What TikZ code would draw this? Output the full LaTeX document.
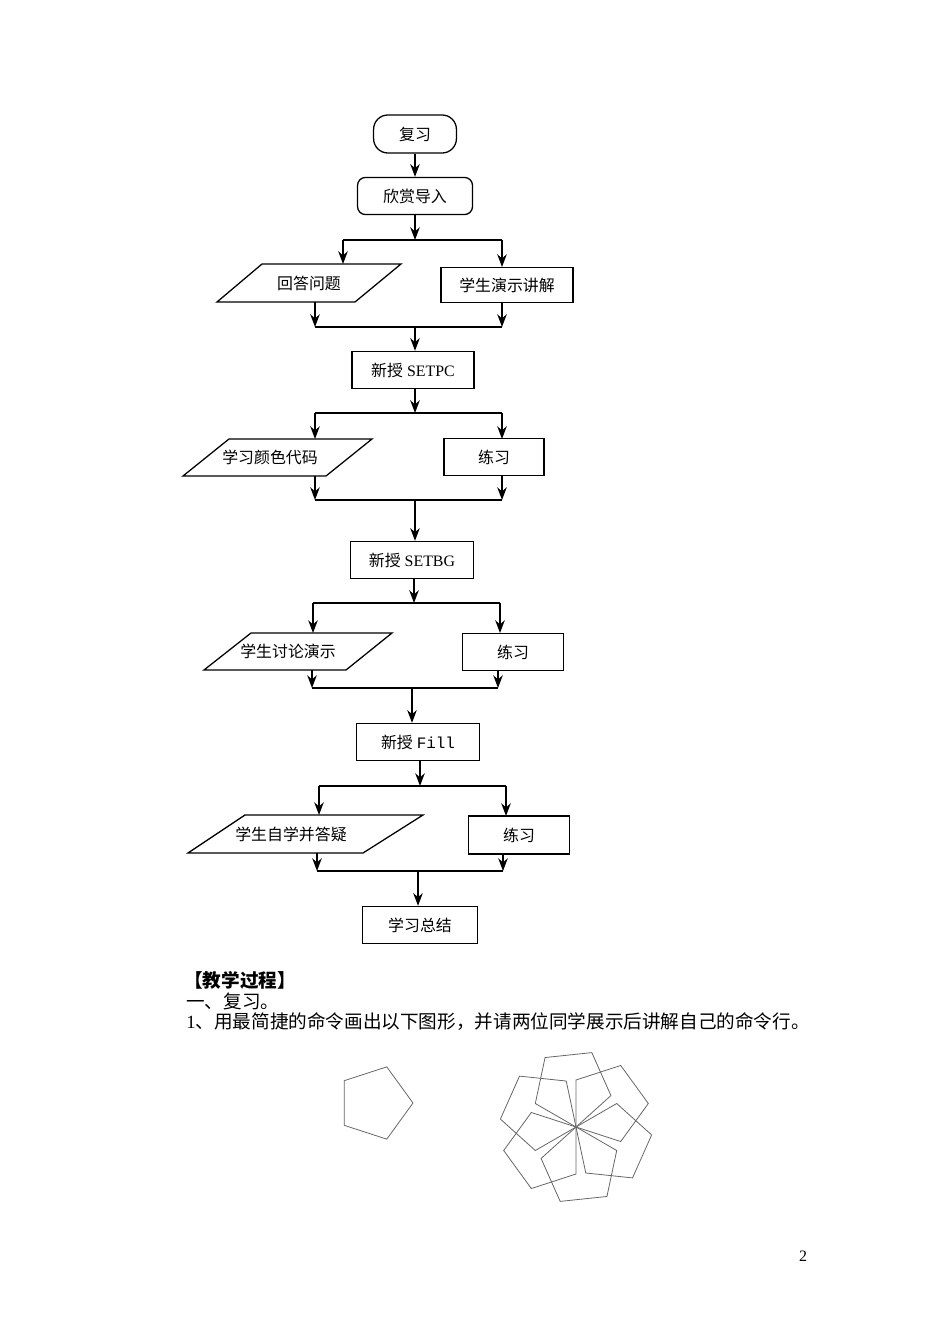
\documentclass[tikz,border=0pt]{standalone}
\usepackage{fontspec}
\setmainfont{Liberation Serif}
\newfontfamily\cjk{Noto Sans CJK SC}
\usetikzlibrary{arrows.meta,calc}
\newcommand{\zh}[1]{{\cjk #1}}
\tikzset{
  box/.style={rectangle, draw, thick, inner sep=0pt, font=\fontsize{10}{12}\selectfont},
  lbl/.style={inner sep=0pt, font=\fontsize{10}{12}\selectfont},
  flow/.style={-{Stealth[length=8pt,width=6pt]}, thick},
  bar/.style={line width=1.4pt},
  shape5/.style={draw=black!60, line width=0.5pt}
}
\begin{document}
\begin{tikzpicture}[x=0.0221cm, y=-0.0221cm]
  \useasboundingbox (0,0) rectangle (950,1344);

  % top of the chart
  \node [box, rounded corners=9pt, minimum width=1.83cm, minimum height=0.84cm] (rev) at (415,134) {\zh{复习}};
  \node [box, rounded corners=5pt, minimum width=2.54cm, minimum height=0.82cm] (intro) at (415,196) {\zh{欣赏导入}};
  \draw [flow] (rev) -- (intro);

  % branch 1
  \coordinate (b1) at (415,240);
  \draw [flow] (intro) -- (b1);
  \draw [bar] (343,240) -- (502,240);
  \draw [thick] (262,264) -- (401,264) -- (355,302) -- (217,302) -- cycle;
  \node [lbl] (ans) at (309,283) {\zh{回答问题}};
  \node [box, minimum width=2.92cm, minimum height=0.77cm] (demo) at (507,285) {\zh{学生演示讲解}};
  \draw [flow] (343,240) -- (343,264);
  \draw [flow] (502,240) -- (502,267);
  \draw [flow] (315,302) -- (315,327);
  \draw [flow] (502,302) -- (502,327);
  \draw [bar] (315,327) -- (502,327);
  \node [box, minimum width=2.70cm, minimum height=0.82cm] (pc) at (413,370) {\zh{新授} SETPC};
  \coordinate (m1) at (415,327);
  \draw [flow] (m1) -- (m1 |- pc.north);

  % branch 2
  \coordinate (b2) at (415,413);
  \draw [flow] (pc.south -| b2) -- (b2);
  \draw [bar] (315,413) -- (502,413);
  \draw [thick] (229,439) -- (372,439) -- (326,476) -- (183,476) -- cycle;
  \node [lbl] (code) at (270,457) {\zh{学习颜色代码}};
  \node [box, minimum width=2.21cm, minimum height=0.82cm] (ex1) at (494,457) {\zh{练习}};
  \draw [flow] (315,413) -- (315,439);
  \draw [flow] (502,413) -- (502,439);
  \draw [flow] (315,476) -- (315,500);
  \draw [flow] (502,476) -- (502,500);
  \draw [bar] (315,500) -- (502,500);
  \node [box, minimum width=2.72cm, minimum height=0.82cm] (bg) at (412,560) {\zh{新授} SETBG};
  \coordinate (m2) at (415,500);
  \draw [flow] (m2) -- (m2 |- bg.north);

  % branch 3
  \coordinate (b3) at (414,603);
  \draw [flow] (bg.south -| b3) -- (b3);
  \draw [bar] (313,603) -- (500,603);
  \draw [thick] (251,633) -- (392,633) -- (346,670) -- (204,670) -- cycle;
  \node [lbl] (disc) at (288,651) {\zh{学生讨论演示}};
  \node [box, minimum width=2.23cm, minimum height=0.82cm] (ex2) at (513,652) {\zh{练习}};
  \draw [flow] (313,603) -- (313,633);
  \draw [flow] (500,603) -- (500,633);
  \draw [flow] (312,670) -- (312,688);
  \draw [flow] (498,670) -- (498,688);
  \draw [bar] (312,688) -- (498,688);
  \node [box, minimum width=2.72cm, minimum height=0.82cm] (fill) at (418,742) {\zh{新授} {\fontspec{Liberation Mono}Fill}};
  \coordinate (m3) at (412,688);
  \draw [flow] (m3) -- (m3 |- fill.north);

  % branch 4
  \coordinate (b4) at (420,786);
  \draw [flow] (fill.south -| b4) -- (b4);
  \draw [bar] (319,786) -- (506,786);
  \draw [thick] (245,815) -- (423,815) -- (363,853) -- (188,853) -- cycle;
  \node [lbl] (self) at (291,834) {\zh{学生自学并答疑}};
  \node [box, minimum width=2.23cm, minimum height=0.84cm] (ex3) at (519,835) {\zh{练习}};
  \draw [flow] (319,786) -- (319,815);
  \draw [flow] (506,786) -- (506,816);
  \draw [flow] (317,853) -- (317,871);
  \draw [flow] (503,854) -- (503,871);
  \draw [bar] (317,871) -- (503,871);
  \node [box, minimum width=2.54cm, minimum height=0.82cm] (sum) at (420,925) {\zh{学习总结}};
  \coordinate (m4) at (418,871);
  \draw [flow] (m4) -- (m4 |- sum.north);

  % text below
  \begin{scope}[every node/.style={anchor=west, inner sep=0pt, font=\fontsize{11.7}{14}\selectfont}]
    \node (head) at (184,980) {\cjk\bfseries 【教学过程】};
    \node (one) at (186,1001) {\zh{一、复习。}};
    \node (task) at (186,1022) {1\zh{、用最简捷的命令画出以下图形，并请两位同学展示后讲解自己的命令行。}};
  \end{scope}

  % pentagons
  \coordinate (pc5) at (375,1103);
  \draw [shape5] ($(pc5)+(0:38)$) -- ($(pc5)+(72:38)$) -- ($(pc5)+(144:38)$) -- ($(pc5)+(216:38)$) -- ($(pc5)+(288:38)$) -- cycle;
  \coordinate (fc) at (576,1127);
  \foreach \k in {0,...,5}
    \draw [shape5] (fc) -- ++(90+60*\k:47) -- ++(162+60*\k:47) -- ++(234+60*\k:47) -- ++(306+60*\k:47) -- cycle;

  \node [font=\fontsize{10}{12}\selectfont] (page) at (803,1256) {2};
\end{tikzpicture}
\end{document}
